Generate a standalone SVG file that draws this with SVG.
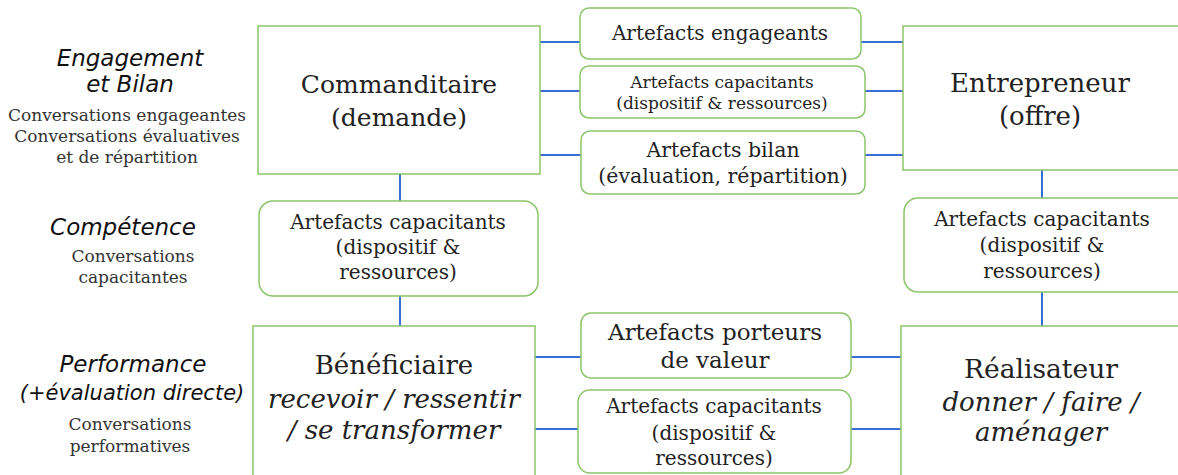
<svg xmlns="http://www.w3.org/2000/svg" width="1178" height="475" viewBox="0 0 1178 475">
<style>
.box{fill:#fff;stroke:#8cc46a;stroke-width:1.5}
.con{stroke:#3a6fd0;stroke-width:2;fill:none}
.t{font-family:"DejaVu Serif","Liberation Serif",serif;fill:#222;text-anchor:middle}
.i{font-style:italic}
.h{font-family:"DejaVu Sans","Liberation Sans",sans-serif;font-style:italic;fill:#111;text-anchor:middle}
.s{font-family:"DejaVu Serif","Liberation Serif",serif;fill:#333;text-anchor:middle;font-size:17px}
</style>
<rect width="1178" height="475" fill="#fff"/>
<g id="connectors">
<path class="con" d="M540 42H580M861 42H903M540 91H580M865 91H903M540 155H581M865 155H903M400 174V201M400 296V326M1042 170V198M1042 292V326M535 357H581M851 357H901M535 429H578M851 429H901"/>
</g>
<g id="labels">
<text class="h" x="130" y="66" font-size="23">Engagement</text>
<text class="h" x="130" y="92" font-size="23">et Bilan</text>
<text class="s" x="127" y="121">Conversations engageantes</text>
<text class="s" x="127" y="142">Conversations évaluatives</text>
<text class="s" x="127" y="163">et de répartition</text>
<text class="h" x="123" y="235" font-size="23">Compétence</text>
<text class="s" x="133" y="262">Conversations</text>
<text class="s" x="133" y="283">capacitantes</text>
<text class="h" x="133" y="372" font-size="23">Performance</text>
<text class="h" x="132" y="400" font-size="21">(+évaluation directe)</text>
<text class="s" x="130" y="430">Conversations</text>
<text class="s" x="130" y="452">performatives</text>
</g>
<g id="commanditaire">
<rect class="box" x="258" y="26" width="282" height="148"/>
<text class="t" x="399" y="93" font-size="25">Commanditaire</text>
<text class="t" x="399" y="126" font-size="25">(demande)</text>
</g>
<g id="entrepreneur">
<rect class="box" x="903" y="26" width="285" height="144"/>
<text class="t" x="1040" y="92" font-size="26">Entrepreneur</text>
<text class="t" x="1040" y="125" font-size="26">(offre)</text>
</g>
<g id="artefacts-engageants">
<rect class="box" x="580" y="8" width="281" height="51" rx="9"/>
<text class="t" x="720" y="40" font-size="20">Artefacts engageants</text>
</g>
<g id="artefacts-capacitants-haut">
<rect class="box" x="580" y="66" width="285" height="52" rx="9"/>
<text class="t" x="722" y="88" font-size="17">Artefacts capacitants</text>
<text class="t" x="722" y="109" font-size="17">(dispositif &amp; ressources)</text>
</g>
<g id="artefacts-bilan">
<rect class="box" x="581" y="131" width="284" height="63" rx="9"/>
<text class="t" x="723" y="157" font-size="20.5">Artefacts bilan</text>
<text class="t" x="723" y="183" font-size="20.5">(évaluation, répartition)</text>
</g>
<g id="artefacts-capacitants-gauche">
<rect class="box" x="259" y="201" width="279" height="95" rx="14"/>
<text class="t" x="398" y="229" font-size="20">Artefacts capacitants</text>
<text class="t" x="398" y="254" font-size="20">(dispositif &amp;</text>
<text class="t" x="398" y="279" font-size="20">ressources)</text>
</g>
<g id="artefacts-capacitants-droite">
<rect class="box" x="904" y="198" width="290" height="94" rx="14"/>
<text class="t" x="1042" y="226" font-size="20">Artefacts capacitants</text>
<text class="t" x="1042" y="252" font-size="20">(dispositif &amp;</text>
<text class="t" x="1042" y="278" font-size="20">ressources)</text>
</g>
<g id="beneficiaire">
<rect class="box" x="253" y="326" width="282" height="160"/>
<text class="t" x="394" y="374" font-size="26">Bénéficiaire</text>
<text class="t i" x="394" y="408" font-size="26">recevoir / ressentir</text>
<text class="t i" x="394" y="439" font-size="26">/ se transformer</text>
</g>
<g id="realisateur">
<rect class="box" x="901" y="326" width="290" height="160"/>
<text class="t" x="1041" y="378" font-size="26.5">Réalisateur</text>
<text class="t i" x="1041" y="411" font-size="26">donner / faire /</text>
<text class="t i" x="1041" y="441" font-size="26">aménager</text>
</g>
<g id="artefacts-porteurs">
<rect class="box" x="581" y="313" width="270" height="65" rx="10"/>
<text class="t" x="715" y="340" font-size="23">Artefacts porteurs</text>
<text class="t" x="715" y="368" font-size="23">de valeur</text>
</g>
<g id="artefacts-capacitants-bas">
<rect class="box" x="578" y="390" width="273" height="83" rx="12"/>
<text class="t" x="714" y="413" font-size="20">Artefacts capacitants</text>
<text class="t" x="714" y="440" font-size="20">(dispositif &amp;</text>
<text class="t" x="714" y="465" font-size="20">ressources)</text>
</g>
</svg>
